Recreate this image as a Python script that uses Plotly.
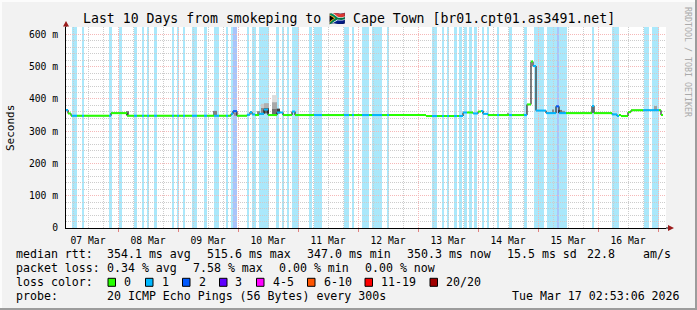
import plotly.graph_objects as go

# ---------------- data ----------------
TITLE = "Last 10 Days from smokeping to 🇿🇦 Cape Town [br01.cpt01.as3491.net]"
X_START = "2026-03-07 03:12"
X_END = "2026-03-17 03:12"

# loss background bands (start, end, loss class)
band_start = ["2026-03-07 05:36", "2026-03-07 09:36", "2026-03-07 20:24", "2026-03-08 00:24",
              "2026-03-08 06:24", "2026-03-08 09:36", "2026-03-08 11:36", "2026-03-08 14:24",
              "2026-03-08 21:36", "2026-03-08 23:36", "2026-03-09 02:00", "2026-03-09 05:36",
              "2026-03-09 10:24", "2026-03-09 14:24", "2026-03-09 19:12", "2026-03-09 21:12",
              "2026-03-09 22:00", "2026-03-10 03:36", "2026-03-10 05:36", "2026-03-10 08:24",
              "2026-03-10 15:12", "2026-03-10 17:36", "2026-03-10 19:36", "2026-03-10 21:36",
              "2026-03-11 04:24", "2026-03-11 06:24", "2026-03-11 18:24", "2026-03-11 21:36",
              "2026-03-12 01:36", "2026-03-12 05:36", "2026-03-12 11:36", "2026-03-13 05:36",
              "2026-03-13 09:36", "2026-03-13 11:36", "2026-03-13 14:24", "2026-03-13 16:24",
              "2026-03-13 18:24", "2026-03-13 20:24", "2026-03-13 22:24", "2026-03-14 01:36",
              "2026-03-14 03:36", "2026-03-14 07:36", "2026-03-14 12:24", "2026-03-14 18:24",
              "2026-03-14 22:24", "2026-03-15 03:36", "2026-03-15 07:36", "2026-03-15 08:24",
              "2026-03-15 21:36", "2026-03-16 05:36", "2026-03-16 18:24", "2026-03-16 21:36"]
band_end = ["2026-03-07 07:36", "2026-03-07 10:24", "2026-03-07 21:36", "2026-03-08 01:36",
            "2026-03-08 07:36", "2026-03-08 10:24", "2026-03-08 12:24", "2026-03-08 15:36",
            "2026-03-08 22:24", "2026-03-09 00:24", "2026-03-09 02:48", "2026-03-09 07:36",
            "2026-03-09 11:36", "2026-03-09 16:24", "2026-03-09 20:00", "2026-03-09 22:00",
            "2026-03-09 23:36", "2026-03-10 04:24", "2026-03-10 07:12", "2026-03-10 12:24",
            "2026-03-10 16:24", "2026-03-10 18:24", "2026-03-10 20:24", "2026-03-11 00:24",
            "2026-03-11 05:36", "2026-03-11 09:36", "2026-03-11 20:24", "2026-03-11 22:24",
            "2026-03-12 04:24", "2026-03-12 09:36", "2026-03-12 12:24", "2026-03-13 07:36",
            "2026-03-13 10:24", "2026-03-13 12:24", "2026-03-13 15:36", "2026-03-13 17:36",
            "2026-03-13 19:36", "2026-03-13 21:36", "2026-03-13 23:36", "2026-03-14 02:24",
            "2026-03-14 04:24", "2026-03-14 08:24", "2026-03-14 13:36", "2026-03-14 19:36",
            "2026-03-15 02:24", "2026-03-15 07:36", "2026-03-15 08:24", "2026-03-15 11:36",
            "2026-03-15 22:24", "2026-03-16 08:24", "2026-03-16 20:24", "2026-03-17 00:24"]
band_loss = [1, 1, 1, 1, 1, 1, 1, 1, 1, 1, 1, 1, 1, 1, 1, 1, 2, 1, 1, 1, 1, 1, 1, 1, 1, 1,
             1, 1, 1, 1, 1, 1, 1, 1, 1, 1, 1, 1, 1, 1, 1, 1, 1, 1, 1, 1, 2, 1, 1, 1, 1, 1]

# median rtt (step function): change time, value in ms, loss class
med_time = ["2026-03-07 03:12", "2026-03-07 04:00", "2026-03-07 05:12", "2026-03-07 05:36",
            "2026-03-07 07:36", "2026-03-07 09:36", "2026-03-07 10:24", "2026-03-07 20:24",
            "2026-03-07 21:12", "2026-03-08 03:36", "2026-03-08 06:24", "2026-03-08 07:36",
            "2026-03-08 09:36", "2026-03-08 10:24", "2026-03-08 11:36", "2026-03-08 12:24",
            "2026-03-08 14:24", "2026-03-08 15:36", "2026-03-08 21:36", "2026-03-08 22:24",
            "2026-03-08 23:36", "2026-03-09 00:24", "2026-03-09 02:00", "2026-03-09 02:48",
            "2026-03-09 05:36", "2026-03-09 07:36", "2026-03-09 10:24", "2026-03-09 11:36",
            "2026-03-09 14:24", "2026-03-09 16:24", "2026-03-09 19:12", "2026-03-09 20:00",
            "2026-03-09 21:12", "2026-03-09 22:00", "2026-03-09 23:36", "2026-03-10 03:36",
            "2026-03-10 04:48", "2026-03-10 05:36", "2026-03-10 06:48", "2026-03-10 08:24",
            "2026-03-10 10:24", "2026-03-10 12:00", "2026-03-10 15:36", "2026-03-10 18:00",
            "2026-03-10 21:36", "2026-03-10 22:48", "2026-03-11 06:24", "2026-03-11 09:36",
            "2026-03-11 18:24", "2026-03-11 20:24", "2026-03-11 21:36", "2026-03-11 22:24",
            "2026-03-12 01:36", "2026-03-12 04:24", "2026-03-12 05:36", "2026-03-12 09:36",
            "2026-03-12 11:36", "2026-03-12 12:24", "2026-03-13 03:12", "2026-03-13 05:36",
            "2026-03-13 07:36", "2026-03-13 09:36", "2026-03-13 10:24", "2026-03-13 11:36",
            "2026-03-13 12:24", "2026-03-13 14:24", "2026-03-13 15:36", "2026-03-13 16:24",
            "2026-03-13 18:00", "2026-03-13 19:36", "2026-03-13 22:00", "2026-03-14 00:00",
            "2026-03-14 01:12", "2026-03-14 02:00", "2026-03-14 04:00", "2026-03-14 07:36",
            "2026-03-14 08:24", "2026-03-14 12:24", "2026-03-14 13:36", "2026-03-14 18:24",
            "2026-03-14 19:36", "2026-03-14 21:12", "2026-03-14 22:00", "2026-03-14 23:12",
            "2026-03-15 03:12", "2026-03-15 07:12", "2026-03-15 08:24", "2026-03-15 11:12",
            "2026-03-15 21:36", "2026-03-15 22:24", "2026-03-16 05:36", "2026-03-16 07:36",
            "2026-03-16 08:24", "2026-03-16 09:12", "2026-03-16 12:00", "2026-03-16 13:12",
            "2026-03-16 18:00", "2026-03-17 00:24", "2026-03-17 01:12"]
med_value = [366, 355, 348, 348, 348, 348, 348, 348, 356, 348, 348, 348, 348, 348, 348, 348,
             348, 348, 348, 348, 348, 348, 348, 348, 348, 348, 348, 348, 348, 348, 348, 348,
             354, 362, 348, 351, 359, 352, 350, 354, 367, 350, 358, 350, 361, 350, 350, 350,
             350, 350, 350, 350, 350, 350, 350, 350, 350, 350, 347, 347, 347, 347, 347, 347,
             347, 347, 347, 347, 358, 358, 355, 361, 363, 354, 350, 350, 350, 350, 350, 350,
             383, 516, 502, 364, 356, 377, 356, 356, 378, 356, 352, 347, 350, 347, 359, 365,
             365, 365, 350]
med_loss = [1, 0, 0, 1, 0, 1, 0, 1, 0, 0, 1, 0, 1, 0, 1, 0, 1, 0, 1, 0, 1, 0, 1, 0, 1, 0,
            1, 0, 1, 0, 1, 0, 1, 2, 0, 1, 1, 1, 0, 1, 1, 0, 1, 0, 1, 0, 1, 0, 1, 0, 1, 0,
            1, 0, 1, 0, 1, 0, 0, 1, 0, 1, 0, 1, 0, 1, 0, 1, 1, 0, 1, 0, 1, 1, 0, 1, 0, 1,
            0, 1, 0, 0, 1, 1, 1, 2, 1, 0, 1, 0, 1, 1, 0, 0, 0, 0, 1, 0, 0]
MED_END = "2026-03-17 02:00"

# smoke (ping spread) boxes
smoke_start = ["2026-03-08 03:12", "2026-03-09 14:00", "2026-03-09 22:24", "2026-03-10 07:36",
               "2026-03-10 09:12", "2026-03-10 09:12", "2026-03-10 10:24", "2026-03-10 10:24",
               "2026-03-10 13:36", "2026-03-10 13:36", "2026-03-10 13:36", "2026-03-10 15:36",
               "2026-03-14 11:36", "2026-03-15 05:36", "2026-03-15 08:00", "2026-03-15 09:36",
               "2026-03-16 22:24"]
smoke_end = ["2026-03-08 04:24", "2026-03-09 15:36", "2026-03-09 23:36", "2026-03-10 08:48",
             "2026-03-10 10:24", "2026-03-10 10:24", "2026-03-10 12:24", "2026-03-10 12:24",
             "2026-03-10 15:36", "2026-03-10 15:36", "2026-03-10 15:36", "2026-03-10 16:48",
             "2026-03-14 12:24", "2026-03-15 06:24", "2026-03-15 09:36", "2026-03-15 10:48",
             "2026-03-16 23:36"]
smoke_lo = [350, 350, 348, 352, 372, 352, 372, 355, 390, 370, 352, 355, 350, 357, 356, 356, 366]
smoke_hi = [362, 363, 358, 362, 385, 372, 387, 372, 412, 390, 370, 370, 357, 367, 366, 363, 378]
smoke_shade = ["#707070", "#808080", "#909090", "#888888", "#c8c8c8", "#8a8a8a", "#b0b0b0",
               "#606060", "#dcdcdc", "#a8a8a8", "#707070", "#404040", "#999999", "#888888",
               "#777777", "#999999", "#a0a0a0"]

y_tickvals = [0, 100, 200, 300, 400, 500, 600]
y_ticktext = ["0", "100 m", "200 m", "300 m", "400 m", "500 m", "600 m"]

loss_labels = ["0", "1", "2", "3", "4-5", "6-10", "11-19", "20/20"]
loss_colors = ["#26ff00", "#00b8ff", "#0059ff", "#5e00ff", "#ff00ff", "#ff5500", "#ff0000", "#a00000"]
band_colors = {1: "#aae8fb", 2: "#aac4fa"}

rtt_label = "median rtt:"
rtt_stats = ["354.1 ms avg", "515.6 ms max", "347.0 ms min", "350.3 ms now", "15.5 ms sd"]
rtt_amps = ["22.8", "am/s"]
loss_label = "packet loss:"
loss_stats = ["0.34 % avg", "7.58 % max", "0.00 % min", "0.00 % now"]
color_label = "loss color:"
probe_label = "probe:"
probe_text = "20 ICMP Echo Pings (56 Bytes) every 300s"
stamp_text = "Tue Mar 17 02:53:06 2026"
y_title = "Seconds"
watermark = "RRDTOOL / TOBI OETIKER"

# ---------------- layout geometry (pixels) ----------------
W, H = 697, 310
L, R, T, B = 66, 666, 27, 228
FONT = "DejaVu Sans Mono"


def px(x):
    return (x - L) / (R - L)


def py(y):
    return (B - y) / (B - T)


fig = go.Figure()

# smoke
for s, e, lo, hi, c in zip(smoke_start, smoke_end, smoke_lo, smoke_hi, smoke_shade):
    fig.add_trace(go.Scatter(x=[s, e, e, s, s], y=[lo, lo, hi, hi, lo], mode="lines",
                             fill="toself", fillcolor=c, line=dict(width=0, color=c),
                             hoverinfo="skip", showlegend=False))

# black step connector line
fig.add_trace(go.Scatter(x=med_time + [MED_END], y=med_value + [med_value[-1]],
                         mode="lines", line=dict(color="#000000", width=1, shape="hv"),
                         hoverinfo="skip", showlegend=False))

# colored median segments by loss class
ends = med_time[1:] + [MED_END]
for cls in sorted(set(med_loss)):
    xs, ys = [], []
    for t0, t1, v, l in zip(med_time, ends, med_value, med_loss):
        if l == cls:
            xs += [t0, t1, None]
            ys += [v, v, None]
    fig.add_trace(go.Scatter(x=xs, y=ys, mode="lines", connectgaps=False,
                             line=dict(color=loss_colors[cls], width=2),
                             hoverinfo="skip", showlegend=False))

shapes = []
for s, e, l in zip(band_start, band_end, band_loss):
    shapes.append(dict(type="rect", xref="x", yref="paper", x0=s, x1=e, y0=0, y1=1,
                       fillcolor=band_colors[l], line=dict(width=0), layer="below"))

# axis arrows
arrow = "#9b1c1c"
shapes.append(dict(type="line", xref="paper", yref="paper", x0=px(L), x1=px(L), y0=1, y1=py(24),
                   line=dict(color="#000", width=1)))
shapes.append(dict(type="path", xref="paper", yref="paper",
                   path=f"M {px(L - 3)} {py(26.5)} L {px(L + 3)} {py(26.5)} L {px(L)} {py(21)} Z",
                   fillcolor=arrow, line=dict(width=0)))
shapes.append(dict(type="line", xref="paper", yref="paper", x0=1, x1=px(669), y0=0, y1=0,
                   line=dict(color="#000", width=1)))
shapes.append(dict(type="path", xref="paper", yref="paper",
                   path=f"M {px(668)} {py(225)} L {px(668)} {py(231)} L {px(674)} {py(228)} Z",
                   fillcolor=arrow, line=dict(width=0)))

# outer frame
shapes.append(dict(type="rect", xref="paper", yref="paper", x0=px(0), x1=px(W), y0=py(H - 2), y1=py(H),
                   fillcolor="#9c9c9c", line=dict(width=0)))
shapes.append(dict(type="rect", xref="paper", yref="paper", x0=px(W - 2), x1=px(W), y0=py(H), y1=py(0),
                   fillcolor="#9c9c9c", line=dict(width=0)))
shapes.append(dict(type="rect", xref="paper", yref="paper", x0=px(0), x1=px(W - 2), y0=py(2), y1=py(0),
                   fillcolor="#fcfcfc", line=dict(width=0)))
shapes.append(dict(type="rect", xref="paper", yref="paper", x0=px(0), x1=px(2), y0=py(H - 2), y1=py(0),
                   fillcolor="#fcfcfc", line=dict(width=0)))

annotations = []


def text(t, x, y, size=11.6, anchor="left", color="#000000", angle=0):
    annotations.append(dict(text=t, x=px(x), y=py(y), xref="paper", yref="paper",
                            xanchor=anchor, yanchor="middle", showarrow=False,
                            textangle=angle, borderpad=0, borderwidth=0,
                            font=dict(family=FONT, size=size, color=color)))


text(TITLE, 348.5, 18.5, size=13.2, anchor="center")
text(y_title, 10, 128, size=11, anchor="center", angle=-90)
text(watermark, 688, 62, size=8.3, anchor="center", color="#aaaaaa", angle=90)

row1, row2, row3, row4 = 254.3, 268.3, 282.3, 296.3
text(rtt_label, 16, row1)
for s, x in zip(rtt_stats, [107.3, 207.3, 307.3, 407.3, 507.3]):
    text(s, x, row1)
text(rtt_amps[0], 587, row1)
text(rtt_amps[1], 643, row1)
text(loss_label, 16, row2)
for s, x in zip(loss_stats, [107.3, 193.3, 279.3, 365.3]):
    text(s, x, row2)
text(color_label, 16, row3)
box_x = [108, 145.5, 182.5, 219.5, 256.5, 307.5, 365, 430]
for lab, col, bx in zip(loss_labels, loss_colors, box_x):
    shapes.append(dict(type="rect", xref="paper", yref="paper", x0=px(bx), x1=px(bx + 7.5),
                       y0=py(row3 + 4), y1=py(row3 - 4), fillcolor=col,
                       line=dict(color="#000000", width=1)))
    text(lab, bx + 16, row3)
text(probe_label, 16, row4)
text(probe_text, 107.3, row4)
text(stamp_text, 680, row4, anchor="right")

fig.update_layout(
    width=W, height=H,
    margin=dict(l=L, r=W - R, t=T, b=H - B, pad=0),
    paper_bgcolor="#f2f2f2", plot_bgcolor="#ffffff",
    showlegend=False,
    shapes=shapes, annotations=annotations,
    font=dict(family=FONT, size=9.7, color="#000000"),
    xaxis=dict(type="date", range=[X_START, X_END], tick0="2026-03-07", dtick=86400000,
               tickformat="%d %b", ticklabelmode="period",
               showgrid=True, gridcolor="#f5b8b8", griddash="1px,1px", gridwidth=1,
               ticks="outside", ticklen=3, tickcolor="#e08080",
               showline=True, linecolor="#000000", linewidth=1, zeroline=False,
               tickfont=dict(family=FONT, size=9.7, color="#000000"),
               minor=dict(dtick=6 * 3600000, showgrid=True, gridcolor="#cccccc",
                          griddash="1px,1px", gridwidth=1),
               fixedrange=True),
    yaxis=dict(range=[0, 623], tickmode="array", tickvals=y_tickvals, ticktext=y_ticktext,
               showgrid=True, gridcolor="#f5b8b8", griddash="1px,1px", gridwidth=1,
               ticks="outside", ticklen=5, tickcolor="rgba(0,0,0,0)",
               showline=True, linecolor="#000000", linewidth=1, zeroline=False,
               tickfont=dict(family=FONT, size=9.7, color="#000000"),
               minor=dict(tickmode="linear", tick0=0, dtick=20, showgrid=True,
                          gridcolor="#cccccc", griddash="1px,1px", gridwidth=1),
               fixedrange=True),
)

fig.write_html("out.html")
